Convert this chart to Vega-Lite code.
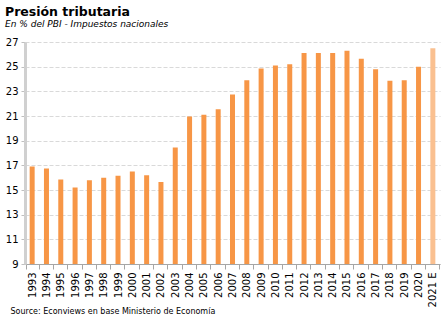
{
  "$schema": "https://vega.github.io/schema/vega-lite/v6.json",
  "autosize": {"type": "none"},
  "width": 415,
  "height": 222,
  "padding": {"left": 25, "top": 42, "right": 3, "bottom": 63},
  "background": "white",
  "title": {
    "text": "Presión tributaria",
    "subtitle": "En % del PBI - Impuestos nacionales",
    "anchor": "start",
    "frame": "group",
    "dx": -20,
    "offset": 8,
    "font": "DejaVu Sans",
    "fontSize": 12.5,
    "fontWeight": "bold",
    "color": "#000000",
    "subtitleFont": "DejaVu Sans",
    "subtitleFontSize": 9,
    "subtitleFontStyle": "italic",
    "subtitleColor": "#000000",
    "subtitlePadding": 2
  },
  "config": {
    "view": {"stroke": null},
    "axis": {"labelFont": "DejaVu Sans", "titleFont": "DejaVu Sans", "labelColor": "#000000"}
  },
  "data": {
    "values": [
      {"year": "1993", "value": 16.9, "type": "real"},
      {"year": "1994", "value": 16.75, "type": "real"},
      {"year": "1995", "value": 15.85, "type": "real"},
      {"year": "1996", "value": 15.2, "type": "real"},
      {"year": "1997", "value": 15.8, "type": "real"},
      {"year": "1998", "value": 16.0, "type": "real"},
      {"year": "1999", "value": 16.15, "type": "real"},
      {"year": "2000", "value": 16.5, "type": "real"},
      {"year": "2001", "value": 16.2, "type": "real"},
      {"year": "2002", "value": 15.65, "type": "real"},
      {"year": "2003", "value": 18.45, "type": "real"},
      {"year": "2004", "value": 20.95, "type": "real"},
      {"year": "2005", "value": 21.1, "type": "real"},
      {"year": "2006", "value": 21.55, "type": "real"},
      {"year": "2007", "value": 22.75, "type": "real"},
      {"year": "2008", "value": 23.9, "type": "real"},
      {"year": "2009", "value": 24.85, "type": "real"},
      {"year": "2010", "value": 25.1, "type": "real"},
      {"year": "2011", "value": 25.2, "type": "real"},
      {"year": "2012", "value": 26.1, "type": "real"},
      {"year": "2013", "value": 26.1, "type": "real"},
      {"year": "2014", "value": 26.1, "type": "real"},
      {"year": "2015", "value": 26.3, "type": "real"},
      {"year": "2016", "value": 25.65, "type": "real"},
      {"year": "2017", "value": 24.8, "type": "real"},
      {"year": "2018", "value": 23.85, "type": "real"},
      {"year": "2019", "value": 23.9, "type": "real"},
      {"year": "2020", "value": 25.0, "type": "real"},
      {"year": "2021 E", "value": 26.5, "type": "est"}
    ]
  },
  "mark": {"type": "bar", "size": 5, "clip": true},
  "encoding": {
    "x": {
      "field": "year",
      "type": "nominal",
      "sort": null,
      "axis": {
        "title": "Source: Econviews en base Ministerio de Economía",
        "titleAnchor": "start",
        "titleAlign": "left",
        "titleBaseline": "alphabetic",
        "titleX": -15,
        "titleY": 49,
        "titleFontSize": 8,
        "titleFontWeight": "normal",
        "titleColor": "#000000",
        "labelAngle": -90,
        "labelFontSize": 10,
        "labelPadding": 3,
        "tickBand": "extent",
        "tickColor": "#a6a6a6",
        "tickSize": 5,
        "domainColor": "#a6a6a6",
        "domainWidth": 1,
        "grid": false
      }
    },
    "y": {
      "field": "value",
      "type": "quantitative",
      "scale": {"domain": [9, 27], "nice": false, "zero": false},
      "axis": {
        "title": null,
        "values": [9, 11, 13, 15, 17, 19, 21, 23, 25, 27],
        "labelFontSize": 10,
        "labelPadding": 3,
        "tickColor": "#bfbfbf",
        "tickSize": 4,
        "domainColor": "#d0d0d0",
        "domainWidth": 3,
        "gridColor": "#d9d9d9",
        "gridDash": [4, 2],
        "gridWidth": 1
      }
    },
    "color": {
      "field": "type",
      "type": "nominal",
      "scale": {"domain": ["real", "est"], "range": ["#F79646", "#FAC090"]},
      "legend": null
    }
  }
}
